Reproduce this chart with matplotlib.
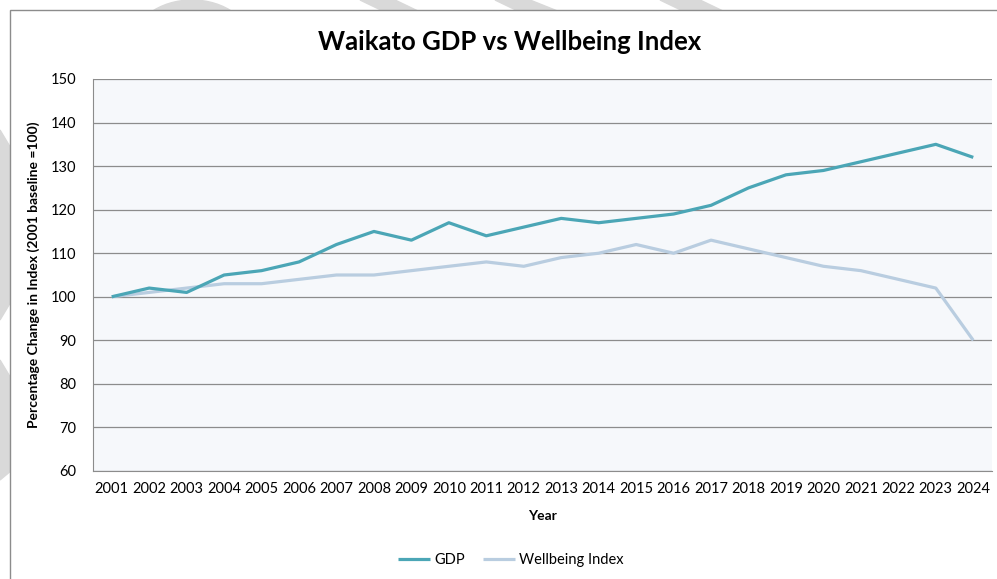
import numpy as np
import matplotlib
matplotlib.use('Agg')
import matplotlib.pyplot as plt
from matplotlib.patches import Polygon, Rectangle, Ellipse

plt.rcParams['font.family'] = ['Lato', 'DejaVu Sans']

years = [str(y) for y in range(2001, 2025)]
gdp = [100, 102, 101, 105, 106, 108, 112, 115, 113, 117, 114, 116,
       118, 117, 118, 119, 121, 125, 128, 129, 131, 133, 135, 132]
wellbeing = [100, 101, 102, 103, 103, 104, 105, 105, 106, 107, 108, 107,
             109, 110, 112, 110, 113, 111, 109, 107, 106, 104, 102, 90]

W, H = 997, 579
fig = plt.figure(figsize=(W / 100, H / 100), dpi=100)

# background layer in pixel coords (watermark bits + chart frame)
bg = fig.add_axes([0, 0, 1, 1], zorder=0)
bg.set_xlim(0, W)
bg.set_ylim(H, 0)
bg.axis('off')
wm = '#d9d9d9'
bg.add_patch(Ellipse((192, 45), 120, 90, color=wm))
bg.add_patch(Polygon([(360, 0), (395, 0), (420, 12), (385, 12)], color=wm))
bg.add_patch(Polygon([(495, 0), (530, 0), (560, 12), (520, 12)], color=wm))
bg.add_patch(Polygon([(660, 0), (700, 0), (725, 12), (685, 12)], color=wm))
bg.add_patch(Polygon([(0, 130), (12, 150), (12, 300), (0, 320)], color=wm))
bg.add_patch(Polygon([(0, 360), (12, 380), (12, 470), (0, 480)], color=wm))
bg.add_patch(Rectangle((10, 10), W, H, facecolor='white', edgecolor='#8c8c8c', lw=1))

ax = fig.add_axes([93 / W, 1 - 471 / H, (992 - 93) / W, (471 - 79) / H], zorder=1)
x = np.arange(len(years))
ax.plot(x, wellbeing, color='#b9cde0', lw=2.3, label='Wellbeing Index', solid_capstyle='butt', zorder=3)
ax.plot(x, gdp, color='#4ba6b6', lw=2.3, label='GDP', solid_capstyle='butt', zorder=4)

ax.set_facecolor('#f6f8fb')
ax.set_xlim(-0.5, len(years) - 0.5)
ax.set_ylim(60, 150)
ax.set_yticks(range(60, 151, 10))
ax.set_xticks(x)
ax.set_xticklabels(years)
ax.grid(axis='y', color='#8c8c8c', lw=0.9)
ax.set_axisbelow(True)
ax.tick_params(length=0, labelsize=10.5, colors='#000000')
ax.tick_params(axis='y', pad=12)
ax.tick_params(axis='x', pad=8)
for s in ['top', 'right']:
    ax.spines[s].set_visible(False)
for s in ['left', 'bottom']:
    ax.spines[s].set_color('#8c8c8c')

ax.set_xlabel('Year', fontsize=10, fontweight='bold', labelpad=10)
ax.set_ylabel('Percentage Change in Index (2001 baseline =100)', fontsize=10,
              fontweight='bold', labelpad=8)
fig.text(510 / W, 1 - 42 / H, 'Waikato GDP vs Wellbeing Index', ha='center', va='center',
         fontsize=18.5, fontweight='bold')

h, l = ax.get_legend_handles_labels()
fig.legend(h[::-1], l[::-1], loc='center', bbox_to_anchor=(511 / W, 1 - 560 / H), ncol=2,
           frameon=False, fontsize=10.5, handlelength=2.2, columnspacing=1.2, handletextpad=0.3)

fig.savefig('out.png', dpi=100)
